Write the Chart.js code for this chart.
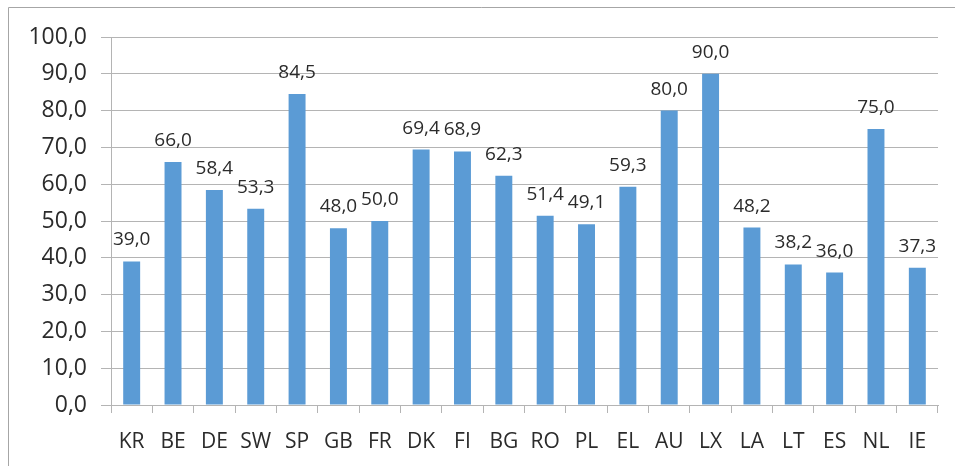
<!DOCTYPE html>
<html>
<head>
<meta charset="utf-8">
<script src="https://cdn.jsdelivr.net/npm/chart.js@4/dist/chart.umd.min.js"></script>
<style>
  html, body { margin: 0; padding: 0; background: #fff; }
  #wrap { position: relative; width: 955px; height: 466px; }
  canvas { display: block; }
</style>
</head>
<body>
<div id="wrap"><canvas id="chart" width="955" height="466"></canvas></div>
<script>
// Country codes along the x axis
const categories = ['KR','BE','DE','SW','SP','GB','FR','DK','FI','BG','RO','PL','EL','AU','LX','LA','LT','ES','NL','IE'];
// Percentage per country
const values = [39.0, 66.0, 58.4, 53.3, 84.5, 48.0, 50.0, 69.4, 68.9, 62.3, 51.4, 49.1, 59.3, 80.0, 90.0, 48.2, 38.2, 36.0, 75.0, 37.3];
// Value axis range
const yMin = 0, yMax = 100, yStep = 10;

const FONT = '"Open Sans", "Liberation Sans", sans-serif';
const TEXT = '#2b2b2b';
const LINE = '#b4b4b4';

const fmt = v => v.toFixed(1).replace('.', ',');

// Thin frame along the left and top edges of the page
const framePlugin = {
  id: 'frame',
  beforeDraw(chart) {
    const ctx = chart.ctx;
    ctx.save();
    ctx.strokeStyle = '#a6a6a6';
    ctx.lineWidth = 1;
    ctx.beginPath();
    ctx.moveTo(8.5, chart.height);
    ctx.lineTo(8.5, 7.5);
    ctx.lineTo(chart.width, 7.5);
    ctx.stroke();
    ctx.restore();
  }
};

// Value labels above each bar
const valueLabels = {
  id: 'valueLabels',
  afterDatasetsDraw(chart) {
    const ctx = chart.ctx;
    const meta = chart.getDatasetMeta(0);
    ctx.save();
    ctx.fillStyle = TEXT;
    ctx.font = '19px ' + FONT;
    ctx.textAlign = 'center';
    ctx.textBaseline = 'alphabetic';
    meta.data.forEach((bar, i) => {
      ctx.fillText(fmt(values[i]), bar.x, bar.y - 16);
    });
    ctx.restore();
  }
};

new Chart(document.getElementById('chart'), {
  type: 'bar',
  data: {
    labels: categories,
    datasets: [{
      data: values,
      backgroundColor: '#5b9bd5',
      borderWidth: 0,
      barPercentage: 0.41,
      categoryPercentage: 1.0
    }]
  },
  options: {
    responsive: false,
    animation: false,
    events: [],
    layout: { padding: { left: 0, right: 17, top: 37, bottom: 0 } },
    plugins: {
      legend: { display: false },
      tooltip: { enabled: false }
    },
    scales: {
      x: {
        grid: {
          offset: true,
          drawOnChartArea: false,
          drawTicks: true,
          tickLength: 8,
          color: LINE
        },
        border: { display: true, color: LINE },
        ticks: {
          color: TEXT,
          font: { family: FONT, size: 21 },
          padding: 16,
          maxRotation: 0,
          autoSkip: false
        },
        afterFit(scale) { scale.height = 466 - 405; }
      },
      y: {
        min: yMin,
        max: yMax,
        grid: {
          color: LINE,
          drawTicks: true,
          tickLength: 10
        },
        border: { display: true, color: LINE },
        ticks: {
          stepSize: yStep,
          color: TEXT,
          font: { family: FONT, size: 23 },
          padding: 14,
          callback: v => fmt(v)
        },
        afterFit(scale) { scale.width = 111; }
      }
    }
  },
  plugins: [framePlugin, valueLabels]
});
</script>
</body>
</html>
